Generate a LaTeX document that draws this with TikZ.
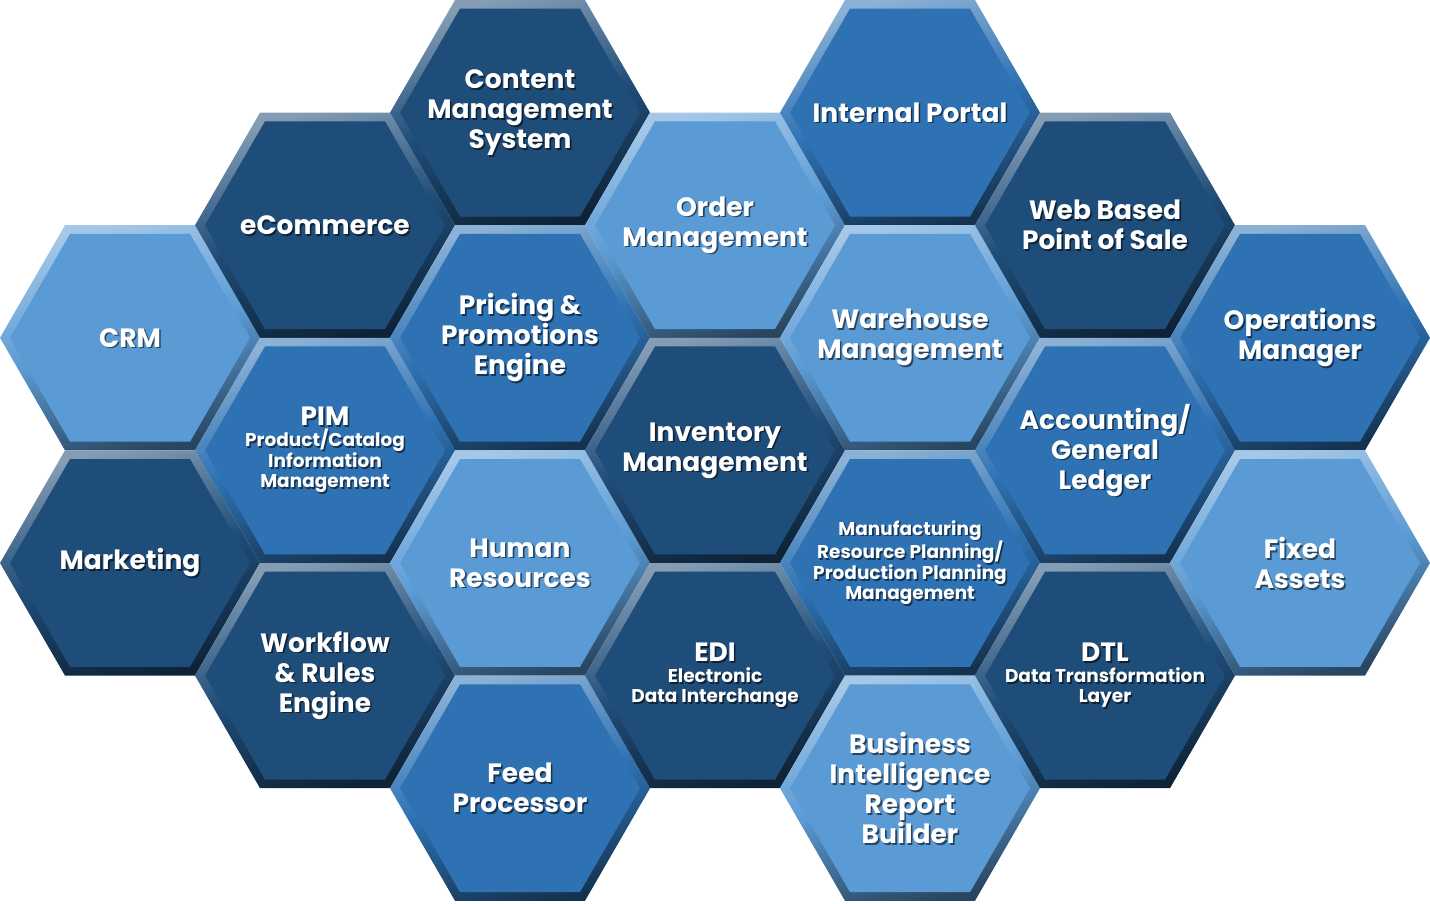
\documentclass[tikz,border=0pt]{standalone}
\usepackage{fontspec}
\setmainfont{Poppins}
\usetikzlibrary{shapes.geometric}

\definecolor{hexLight}{RGB}{91,155,213}
\definecolor{hexMid}{RGB}{46,114,180}
\definecolor{hexDark}{RGB}{31,77,121}
\newcommand{\subsize}{\fontsize{18.5}{20}\selectfont}
\newcommand{\subtext}[1]{{\subsize\begin{tabular}[t]{@{}c@{}}#1\end{tabular}}}

\begin{document}
\begin{tikzpicture}[
  x=1pt, y=-1pt,
  font=\fontsize{26.5}{30}\selectfont\bfseries,
  hex/.style={regular polygon, regular polygon sides=6, minimum size=260pt,
    inner sep=0pt, outer sep=0pt},
  hexin/.style={hex, minimum size=240pt},
  txt/.style={text=white, align=center, inner sep=0pt},
  shd/.style={txt, text=black, opacity=0.55, xshift=1.6pt, yshift=-1.6pt},
  cell/.style 2 args={hex, top color=#1!55!white, bottom color=#1!45!black,
    middle color=#1, shading angle=15,
    label={[hexin, fill=#1]center:{}},
    label={[shd]center:{#2}},
    label={[txt]center:{#2}}},
  cellL/.style={cell={hexLight}{#1}},
  cellM/.style={cell={hexMid}{#1}},
  cellD/.style={cell={hexDark}{#1}},
]
  \path[fill=white, use as bounding box] (0,0) rectangle (1430,903);

  % column 1
  \node[cellL={CRM}] (crm) at (130,337.8) {};
  \node[cellD={Marketing}] (mkt) at (130,563) {};

  % column 2
  \node[cellD={eCommerce}] (ecom) at (325,225.2) {};
  \node[cellM={PIM\\[-9pt]\subtext{Product/Catalog\\Information\\Management}}] (pim)
    at (325,450.4) {};
  \node[cellD={Workflow\\\& Rules\\Engine}] (wf) at (325,675.6) {};

  % column 3
  \node[cellD={Content\\Management\\System}] (cms) at (520,112.6) {};
  \node[cellM={Pricing \&\\Promotions\\Engine}] (pricing) at (520,337.8) {};
  \node[cellL={Human\\Resources}] (hr) at (520,563) {};
  \node[cellM={Feed\\Processor}] (feed) at (520,788.2) {};

  % column 4
  \node[cellL={Order\\Management}] (order) at (715,225.2) {};
  \node[cellD={Inventory\\Management}] (inv) at (715,450.4) {};
  \node[cellD={EDI\\[-9pt]\subtext{Electronic\\Data Interchange}}] (edi)
    at (715,675.6) {};

  % column 5
  \node[cellM={Internal Portal}] (portal) at (910,112.6) {};
  \node[cellL={Warehouse\\Management}] (whs) at (910,337.8) {};
  \node[cellM={\subtext{Manufacturing\\Resource Planning/\\Production Planning\\Management}}]
    (mrp) at (910,563) {};
  \node[cellL={Business\\Intelligence\\Report\\Builder}] (bi) at (910,788.2) {};

  % column 6
  \node[cellD={Web Based\\Point of Sale}] (wpos) at (1105,225.2) {};
  \node[cellM={Accounting/\\General\\Ledger}] (acct) at (1105,450.4) {};
  \node[cellD={DTL\\[-9pt]\subtext{Data Transformation\\Layer}}] (dtl)
    at (1105,675.6) {};

  % column 7
  \node[cellM={Operations\\Manager}] (ops) at (1300,337.8) {};
  \node[cellL={Fixed\\Assets}] (fixed) at (1300,563) {};
\end{tikzpicture}
\end{document}
